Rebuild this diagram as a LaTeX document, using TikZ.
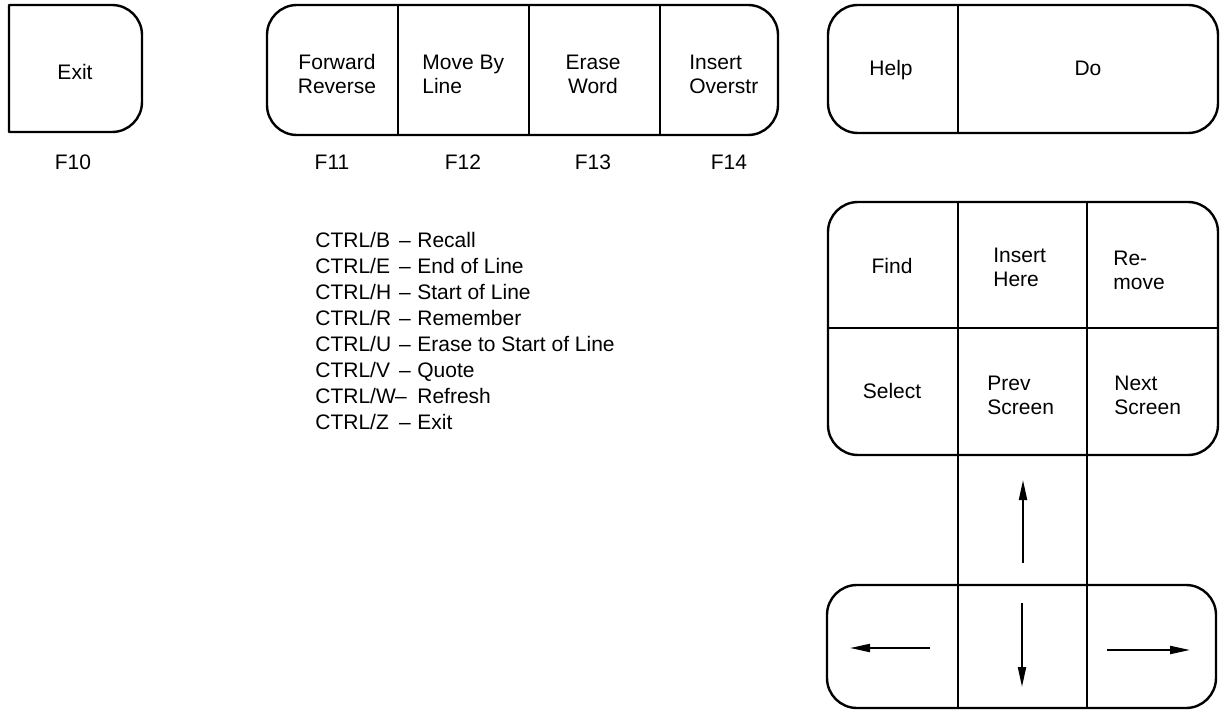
\documentclass[tikz,border=0pt]{standalone}
\usepackage{fontspec}
\setmainfont{Liberation Sans}
\usetikzlibrary{arrows.meta}
\begin{document}
\begin{tikzpicture}[x=0.5pt,y=-0.5pt,
  keyline/.style={line width=1.2pt, line join=round},
  lbl/.style={font=\fontsize{10.5}{12}\selectfont, inner sep=0pt, text depth=0pt, align=center},
  lbll/.style={lbl, align=left, anchor=west},
  ctl/.style={font=\fontsize{10.5}{13}\selectfont, inner sep=0pt, anchor=base west},
  ctd/.style={font=\fontsize{10.5}{13}\selectfont, inner sep=0pt, anchor=base},
  arr/.style={line width=1pt, -{Triangle[length=10pt,width=4pt]}}]
\useasboundingbox (0,0) rectangle (1227,711);

% Exit key (F10)
\draw[keyline] (9,5) -- (112,5) arc[start angle=90,end angle=0,radius=15pt]
  -- (142,102) arc[start angle=0,end angle=-90,radius=15pt] -- (9,132) -- cycle;
\node[lbl] (exit) at (75,72) {Exit};
\node[lbl] (f10) at (73,162) {F10};

% F11-F14 group
\draw[keyline,rounded corners=15pt] (267,5) rectangle (778,135);
\draw[keyline] (398,5) -- (398,135);
\draw[keyline] (529,5) -- (529,135);
\draw[keyline] (660,5) -- (660,135);
\node[lbl] (fwd) at (337,74) {Forward\\Reverse};
\node[lbll] (mbl) at (422,74) {Move By\\Line};
\node[lbl] (erw) at (593,74) {Erase\\Word};
\node[lbll] (ins) at (689,74) {Insert\\Overstr};
\node[lbl] (f11) at (332,162) {F11};
\node[lbl] (f12) at (463,162) {F12};
\node[lbl] (f13) at (593,162) {F13};
\node[lbl] (f14) at (729,162) {F14};

% Help / Do
\draw[keyline,rounded corners=15pt] (828,5) rectangle (1218,133);
\draw[keyline] (958,5) -- (958,133);
\node[lbl] (help) at (891,68) {Help};
\node[lbl] (do) at (1088,68) {Do};

% Editing keypad
\draw[keyline,rounded corners=15pt] (828,202) rectangle (1218,455);
\draw[keyline] (828,328) -- (1218,328);
\draw[keyline] (958,202) -- (958,708);
\draw[keyline] (1087,202) -- (1087,708);
\node[lbl] (find) at (892,266) {Find};
\node[lbll] (insh) at (993,267) {Insert\\Here};
\node[lbll] (rem) at (1113,270) {Re-\\move};
\node[lbl] (sel) at (892,391) {Select};
\node[lbll] (prev) at (987,395) {Prev\\Screen};
\node[lbll] (next) at (1114,395) {Next\\Screen};

% Arrow keys
\draw[keyline,rounded corners=15pt] (827,585) rectangle (1216,708);
\coordinate (u1) at (1023,563); \coordinate (u2) at (1023,480);
\coordinate (d1) at (1022,603); \coordinate (d2) at (1022,687);
\coordinate (l1) at (930,648);  \coordinate (l2) at (850,648);
\coordinate (r1) at (1107,650); \coordinate (r2) at (1190,650);
\draw[arr] (u1) -- (u2);
\draw[arr] (d1) -- (d2);
\draw[arr] (l1) -- (l2);
\draw[arr] (r1) -- (r2);

% CTRL list
\foreach \k/\d/\dx [count=\i] in {B/Recall/405, E/End of Line/405, H/Start of Line/405,
  R/Remember/405, U/Erase to Start of Line/405, V/Quote/405, W/Refresh/401, Z/Exit/405}{
  \node[ctl] (k\i) at (315,{248+25.86*(\i-1)}) {CTRL/\k};
  \node[ctd] (s\i) at (\dx,{248+25.86*(\i-1)}) {–};
  \node[ctl] (t\i) at (417,{248+25.86*(\i-1)}) {\d};
}
\end{tikzpicture}
\end{document}
